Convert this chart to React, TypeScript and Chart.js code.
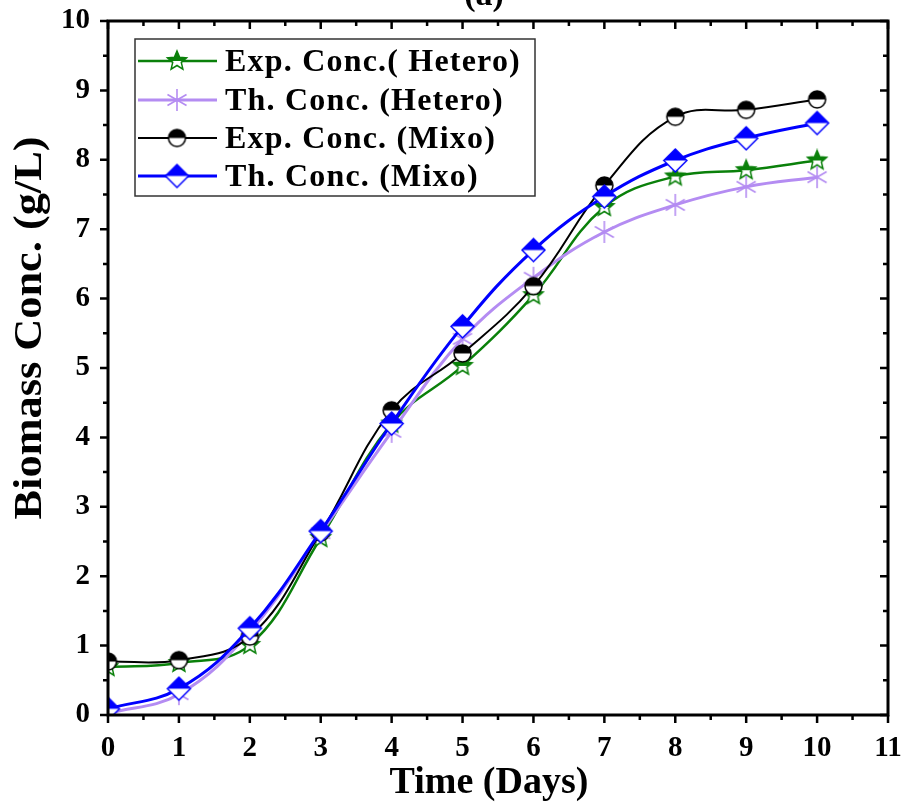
import React, { useEffect, useRef } from "react";
import { Chart, registerables } from "chart.js";

Chart.register(...registerables);

const days = [0, 1, 2, 3, 4, 5, 6, 7, 8, 9, 10];
const expHetero = [0.69, 0.75, 1.01, 2.55, 4.2, 5.03, 6.05, 7.32, 7.76, 7.85, 7.99];
const thHetero = [0.02, 0.3, 1.2, 2.62, 4.08, 5.42, 6.3, 6.96, 7.35, 7.61, 7.75];
const expMixo = [0.77, 0.79, 1.13, 2.63, 4.39, 5.21, 6.18, 7.63, 8.62, 8.72, 8.87];
const thMixo = [0.09, 0.38, 1.25, 2.65, 4.2, 5.6, 6.7, 7.47, 7.99, 8.31, 8.53];

const seriesNames = [
  "Exp. Conc.( Hetero)",
  "Th. Conc. (Hetero)",
  "Exp. Conc. (Mixo)",
  "Th. Conc. (Mixo)",
];
const xTitle = "Time (Days)";
const yTitle = "Biomass Conc. (g/L)";
const panelTitle = "(a)";

const GREEN = "#0a800a";
const PURPLE = "#b48cf2";
const BLACK = "#000000";
const BLUE = "#0000ff";
const FONT = "'Liberation Serif', 'Times New Roman', serif";

const W = 904;
const H = 823;
const OFF = 20; // canvas is shifted up by this many px

function halfMarker(shape: string, color: string, size: number) {
  const c = document.createElement("canvas");
  c.width = size + 4;
  c.height = size + 4;
  const ctx = c.getContext("2d")!;
  const cx = c.width / 2;
  const cy = c.height / 2;
  const r = size / 2;
  const path = () => {
    ctx.beginPath();
    if (shape === "circle") {
      ctx.arc(cx, cy, r, 0, Math.PI * 2);
    } else if (shape === "diamond") {
      ctx.moveTo(cx, cy - r);
      ctx.lineTo(cx + r, cy);
      ctx.lineTo(cx, cy + r);
      ctx.lineTo(cx - r, cy);
      ctx.closePath();
    } else {
      const inner = r * 0.45;
      for (let i = 0; i < 10; i++) {
        const a = -Math.PI / 2 + (i * Math.PI) / 5;
        const rr = i % 2 === 0 ? r : inner;
        const px = cx + rr * Math.cos(a);
        const py = cy + rr * Math.sin(a);
        if (i === 0) ctx.moveTo(px, py);
        else ctx.lineTo(px, py);
      }
      ctx.closePath();
    }
  };
  path();
  ctx.fillStyle = "#ffffff";
  ctx.fill();
  ctx.save();
  ctx.beginPath();
  ctx.rect(0, 0, c.width, cy);
  ctx.clip();
  path();
  ctx.fillStyle = color;
  ctx.fill();
  ctx.restore();
  path();
  ctx.strokeStyle = color;
  ctx.lineWidth = 1.5;
  ctx.stroke();
  return c;
}

function asterisk(color: string, size: number) {
  const c = document.createElement("canvas");
  c.width = size + 4;
  c.height = size + 4;
  const ctx = c.getContext("2d")!;
  const cx = c.width / 2;
  const cy = c.height / 2;
  const r = size / 2;
  ctx.strokeStyle = color;
  ctx.lineWidth = 1.6;
  ctx.beginPath();
  for (const deg of [90, 30, -30]) {
    const a = (deg * Math.PI) / 180;
    ctx.moveTo(cx - r * Math.cos(a), cy - r * Math.sin(a));
    ctx.lineTo(cx + r * Math.cos(a), cy + r * Math.sin(a));
  }
  ctx.stroke();
  return c;
}

export default function App() {
  const ref = useRef<HTMLCanvasElement>(null);

  useEffect(() => {
    const canvas = ref.current!;
    const mStar = halfMarker("star", GREEN, 20);
    const mAst = asterisk(PURPLE, 22);
    const mCircle = halfMarker("circle", BLACK, 17);
    const mDiamond = halfMarker("diamond", BLUE, 23);
    const markers = [mStar, mAst, mCircle, mDiamond];
    const colors = [GREEN, PURPLE, BLACK, BLUE];
    const widths = [2.5, 3, 2, 3];

    const mk = (i: number, data: number[], order: number) => ({
      label: seriesNames[i],
      data: days.map((d, k) => ({ x: d, y: data[k] })),
      borderColor: colors[i],
      backgroundColor: colors[i],
      borderWidth: widths[i],
      pointStyle: markers[i],
      tension: 0.4,
      order,
    });

    const decor = {
      id: "decor",
      afterDraw(chart: any) {
        const ctx = chart.ctx;
        const xs = chart.scales.x;
        const ys = chart.scales.y;
        const { left, right, top, bottom } = chart.chartArea;
        ctx.save();
        ctx.strokeStyle = "#000";
        // ticks
        ctx.lineWidth = 2.5;
        ctx.beginPath();
        for (let v = 0; v <= 11.001; v += 0.5) {
          const px = xs.getPixelForValue(v);
          const major = Math.abs(v - Math.round(v)) < 1e-6;
          const L = major ? 8 : 5;
          ctx.moveTo(px, bottom);
          ctx.lineTo(px, bottom + L);
          ctx.moveTo(px, top);
          ctx.lineTo(px, top + L);
        }
        for (let v = 0; v <= 10.001; v += 0.5) {
          const py = ys.getPixelForValue(v);
          const major = Math.abs(v - Math.round(v)) < 1e-6;
          const L = major ? 8 : 5;
          ctx.moveTo(left, py);
          ctx.lineTo(left - L, py);
          ctx.moveTo(right, py);
          ctx.lineTo(right - L, py);
        }
        ctx.stroke();
        // frame
        ctx.lineWidth = 3;
        ctx.strokeRect(left, top, right - left, bottom - top);

        // axis titles
        ctx.fillStyle = "#000";
        ctx.font = `bold 38px ${FONT}`;
        ctx.textAlign = "center";
        ctx.textBaseline = "alphabetic";
        ctx.fillText(xTitle, 489, 793 + OFF);
        ctx.save();
        ctx.translate(41, 328 + OFF);
        ctx.rotate(-Math.PI / 2);
        ctx.font = `bold 40px ${FONT}`;
        const tw = ctx.measureText(yTitle).width;
        ctx.scale(383 / tw, 1);
        ctx.fillText(yTitle, 0, 0);
        ctx.restore();
        // panel title
        ctx.font = `bold 34px ${FONT}`;
        ctx.fillText(panelTitle, 484, 5 + OFF);

        // legend
        const bx = 135, by = 39 + OFF, bw = 400, bh = 157;
        ctx.lineWidth = 1.5;
        ctx.strokeStyle = "#333";
        ctx.fillStyle = "#fff";
        ctx.fillRect(bx, by, bw, bh);
        ctx.strokeRect(bx, by, bw, bh);
        const rowY = [61, 100, 138, 176];
        ctx.font = `bold 32px ${FONT}`;
        (ctx as any).letterSpacing = "1.2px";
        ctx.textAlign = "left";
        ctx.textBaseline = "middle";
        for (let i = 0; i < 4; i++) {
          const y = rowY[i] + OFF;
          ctx.strokeStyle = colors[i];
          ctx.lineWidth = widths[i];
          ctx.beginPath();
          ctx.moveTo(138, y);
          ctx.lineTo(217, y);
          ctx.stroke();
          const m = markers[i];
          ctx.drawImage(m, 177 - m.width / 2, y - m.height / 2);
          ctx.fillStyle = "#000";
          ctx.fillText(seriesNames[i], 225, y + 2);
        }
        ctx.restore();
      },
    };

    const chart = new Chart(canvas, {
      type: "line",
      data: {
        datasets: [
          mk(0, expHetero, 4),
          mk(1, thHetero, 3),
          mk(2, expMixo, 2),
          mk(3, thMixo, 1),
        ] as any,
      },
      options: {
        animation: false,
        responsive: false,
        devicePixelRatio: 1,
        layout: { padding: { top: 21 + OFF, right: W - 888, left: 0, bottom: 0 } },
        plugins: {
          legend: { display: false },
          tooltip: { enabled: false },
          title: { display: false },
        },
        scales: {
          x: {
            type: "linear",
            min: 0,
            max: 11,
            ticks: {
              stepSize: 1,
              color: "#000",
              padding: 16,
              font: { family: FONT, size: 29, weight: "bold" },
            },
            grid: { display: false, drawTicks: false },
            border: { display: false },
            afterFit: (s: any) => {
              s.height = H - (715 + OFF);
              s.paddingLeft = 0;
              s.paddingRight = 0;
            },
          },
          y: {
            type: "linear",
            min: 0,
            max: 10,
            ticks: {
              stepSize: 1,
              color: "#000",
              padding: 18,
              font: { family: FONT, size: 29, weight: "bold" },
            },
            grid: { display: false, drawTicks: false },
            border: { display: false },
            afterFit: (s: any) => {
              s.width = 108;
              s.paddingTop = 0;
              s.paddingBottom = 0;
            },
          },
        },
      } as any,
      plugins: [decor],
    });
    return () => chart.destroy();
  }, []);

  return (
    <div style={{ position: "absolute", left: 0, top: -OFF, width: W, height: H }}>
      <canvas ref={ref} width={W} height={H} style={{ width: W, height: H, display: "block" }} />
    </div>
  );
}
